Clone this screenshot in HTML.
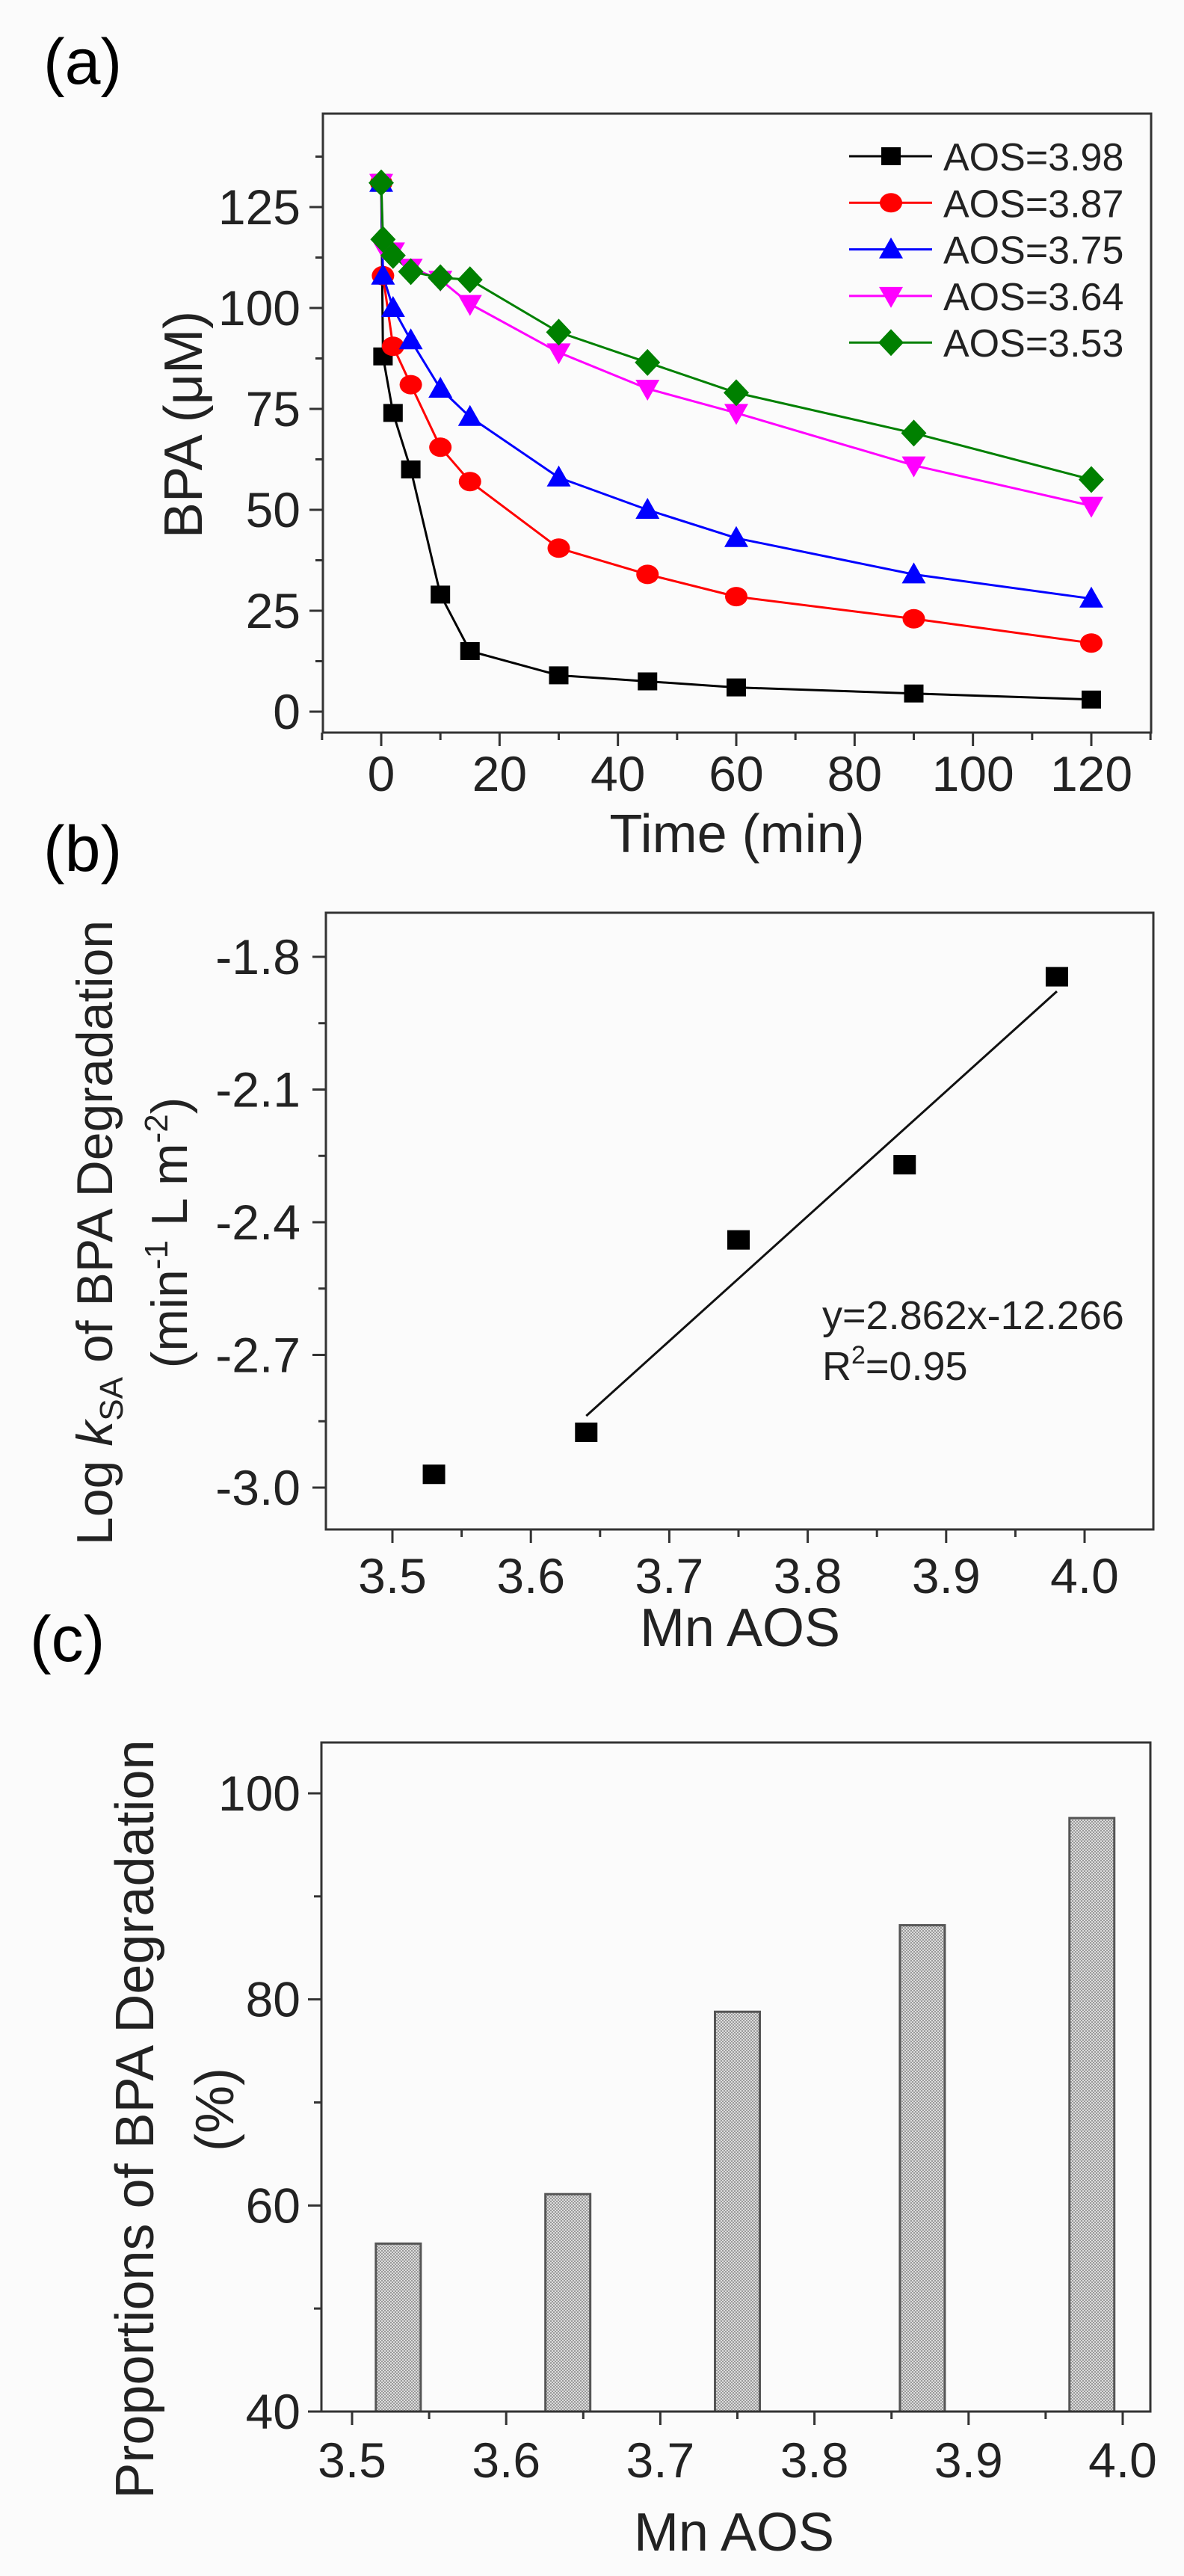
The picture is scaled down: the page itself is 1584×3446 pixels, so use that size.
<!DOCTYPE html>
<html><head><meta charset="utf-8"><style>
html,body{margin:0;padding:0;background:#fbfbfb;}
svg{display:block;font-family:"Liberation Sans",Arial,sans-serif;}
</style></head><body>
<svg id="fig" width="1584" height="3446" viewBox="0 0 1584 3446" xmlns="http://www.w3.org/2000/svg">
<defs>
<pattern id="hatch" width="4" height="4" patternUnits="userSpaceOnUse">
<rect width="4" height="4" fill="#dcdcdc"/><rect width="2" height="2" fill="#9a9a9a"/><rect x="2" y="2" width="2" height="2" fill="#9a9a9a"/>
</pattern>
</defs>
<rect width="1584" height="3446" fill="#fbfbfb"/>
<text x="58" y="112" font-size="86">(a)</text>
<text x="58" y="1165" font-size="86">(b)</text>
<text x="40" y="2222" font-size="86">(c)</text>
<g id="pa"></g>
<g id="pb"></g>
<g id="pc"></g>
</svg>
<script>
// ---- Panel (a) data ----
const timesA = [0, 0.3, 2, 5, 10, 15, 30, 45, 60, 90, 120];
const aos398 = [131, 88, 74, 60, 29, 15, 9, 7.5, 6, 4.5, 3];
const aos387 = [131, 108, 90.5, 81, 65.5, 57, 40.5, 34, 28.5, 23, 17];
const aos375 = [131, 108, 100, 92, 80, 73, 58, 50, 43, 34, 28];
const aos364 = [131, 115, 114, 110, 107, 101, 89, 80, 74, 61, 51];
const aos353 = [131, 117, 113, 109, 107.5, 107, 94, 86.5, 79, 69, 57.5];
const seriesNamesA = ["AOS=3.98", "AOS=3.87", "AOS=3.75", "AOS=3.64", "AOS=3.53"];
const xTicksA = [0, 20, 40, 60, 80, 100, 120];
const yTicksA = [0, 25, 50, 75, 100, 125];
// ---- Panel (b) data ----
const aosB = [3.53, 3.64, 3.75, 3.87, 3.98];
const logK = [-2.97, -2.875, -2.44, -2.27, -1.845];
const fitX = [3.64, 3.98];
const fitY = [-2.838, -1.878];
const xTicksB = [3.5, 3.6, 3.7, 3.8, 3.9, 4.0];
const yTicksB = [-1.8, -2.1, -2.4, -2.7, -3.0];
// ---- Panel (c) data ----
const aosC = [3.53, 3.64, 3.75, 3.87, 3.98];
const propC = [56.3, 61.1, 78.8, 87.2, 97.6];
const xTicksC = [3.5, 3.6, 3.7, 3.8, 3.9, 4.0];
const yTicksC = [40, 60, 80, 100];

const NS = "http://www.w3.org/2000/svg";
function mk(parent, tag, attrs) {
  const e = document.createElementNS(NS, tag);
  for (const k in attrs) e.setAttribute(k, attrs[k]);
  parent.appendChild(e);
  return e;
}
function lin(d0, d1, r0, r1) { return v => r0 + (v - d0) * (r1 - r0) / (d1 - d0); }

// ================= Panel A =================
(function () {
  const g = document.getElementById('pa');
  const L = 432, R = 1540, T = 152, B = 980;
  const X = lin(0, 120, 510, 1460), Y = lin(0, 125, 952, 277);
  let el = mk(g, 'rect', { x: L, y: T, width: R - L, height: B - T, fill: 'none', stroke: '#333', 'stroke-width': 3 });
  
  
  for (let v = -10; v <= 130; v += 10) {
    const major = v % 20 === 0;
    el = mk(g, 'line', { x1: X(v), x2: X(v), y1: B, y2: B + (major ? 18 : 10), stroke: '#333', 'stroke-width': 3 });
    
    
  }
  xTicksA.forEach(v => {
    el = mk(g, 'text', { x: X(v), y: 1058, 'font-size': 66, 'text-anchor': 'middle', fill: '#222' });
    el.textContent = v;
    
    
  });
  for (let v = 0; v <= 137.5; v += 12.5) {
    const major = v % 25 === 0;
    el = mk(g, 'line', { x1: L, x2: L - (major ? 18 : 10), y1: Y(v), y2: Y(v), stroke: '#333', 'stroke-width': 3 });
    
    
  }
  yTicksA.forEach(v => {
    el = mk(g, 'text', { x: 402, y: Y(v) + 23, 'font-size': 66, 'text-anchor': 'end', fill: '#222' });
    el.textContent = v;
    
    
  });
  el = mk(g, 'text', { x: 986, y: 1140, 'font-size': 72, 'text-anchor': 'middle', fill: '#222' });
  el.textContent = 'Time (min)';
  
  
  el = mk(g, 'text', { x: 0, y: 0, 'font-size': 72, 'text-anchor': 'middle', fill: '#222', transform: 'translate(270,568) rotate(-90)' });
  el.textContent = 'BPA (\u03BCM)';
  
  

  const all = [aos398, aos387, aos375, aos364, aos353];
  const colors = ['#000', '#ff0000', '#0000ff', '#ff00ff', '#008000'];
  const shapes = ['square', 'circle', 'tri', 'tridown', 'diamond'];
  function marker(cx, cy, shape, color, name) {
    let m;
    if (shape === 'square') m = mk(g, 'rect', { x: cx - 13, y: cy - 12, width: 26, height: 24, fill: color });
    else if (shape === 'circle') m = mk(g, 'ellipse', { cx: cx, cy: cy, rx: 15, ry: 13, fill: color });
    else if (shape === 'tri') m = mk(g, 'polygon', { points: `${cx},${cy - 16} ${cx + 16},${cy + 12} ${cx - 16},${cy + 12}`, fill: color });
    else if (shape === 'tridown') m = mk(g, 'polygon', { points: `${cx},${cy + 16} ${cx + 16},${cy - 12} ${cx - 16},${cy - 12}`, fill: color });
    else m = mk(g, 'polygon', { points: `${cx},${cy - 18} ${cx + 17},${cy} ${cx},${cy + 18} ${cx - 17},${cy}`, fill: color });
    
    
  }
  all.forEach((s, i) => {
    const pts = s.map((v, j) => X(timesA[j]) + ',' + Y(v)).join(' ');
    el = mk(g, 'polyline', { points: pts, fill: 'none', stroke: colors[i], 'stroke-width': 3 });
    
    
  });
  all.forEach((s, i) => {
    s.forEach((v, j) => marker(X(timesA[j]), Y(v), shapes[i], colors[i], 'data-point'));
  });
  seriesNamesA.forEach((n, i) => {
    const y = 209 + i * 62.3;
    el = mk(g, 'line', { x1: 1136, x2: 1247, y1: y, y2: y, stroke: colors[i], 'stroke-width': 3 });
    
    
    marker(1192, y, shapes[i], colors[i], 'legend-marker');
    el = mk(g, 'text', { x: 1262, y: y + 19, 'font-size': 52, fill: '#222' });
    el.textContent = n;
    
    
  });
})();

// ================= Panel B =================
(function () {
  const g = document.getElementById('pb');
  const L = 436, R = 1543, T = 1221, B = 2046;
  const X = lin(3.5, 4.0, 525, 1451), Y = lin(-1.8, -3.0, 1280, 1990);
  let el = mk(g, 'rect', { x: L, y: T, width: R - L, height: B - T, fill: 'none', stroke: '#333', 'stroke-width': 3 });
  
  
  for (let k = 1; k <= 11; k++) {
    const v = 3.45 + k * 0.05;
    const major = k % 2 === 1;
    el = mk(g, 'line', { x1: X(v), x2: X(v), y1: B, y2: B + (major ? 18 : 10), stroke: '#333', 'stroke-width': 3 });
    
    
  }
  xTicksB.forEach(v => {
    el = mk(g, 'text', { x: X(v), y: 2131, 'font-size': 66, 'text-anchor': 'middle', fill: '#222' });
    el.textContent = v.toFixed(1);
    
    
  });
  for (let k = 0; k <= 8; k++) {
    const v = -1.8 - k * 0.15;
    const major = k % 2 === 0;
    el = mk(g, 'line', { x1: L, x2: L - (major ? 18 : 10), y1: Y(v), y2: Y(v), stroke: '#333', 'stroke-width': 3 });
    
    
  }
  yTicksB.forEach(v => {
    el = mk(g, 'text', { x: 402, y: Y(v) + 23, 'font-size': 66, 'text-anchor': 'end', fill: '#222' });
    el.textContent = v.toFixed(1);
    
    
  });
  el = mk(g, 'text', { x: 990, y: 2202, 'font-size': 72, 'text-anchor': 'middle', fill: '#222' });
  el.textContent = 'Mn AOS';
  
  
  el = mk(g, 'text', { x: 0, y: 0, 'font-size': 68, 'text-anchor': 'middle', fill: '#222', transform: 'translate(150,1649) rotate(-90)' });
  el.innerHTML = 'Log <tspan font-style="italic">k</tspan><tspan font-size="44" dy="14">SA</tspan><tspan dy="-14"> of BPA Degradation</tspan>';
  
  
  el = mk(g, 'text', { x: 0, y: 0, 'font-size': 68, 'text-anchor': 'middle', fill: '#222', transform: 'translate(250,1649) rotate(-90)' });
  el.innerHTML = '(min<tspan font-size="44" dy="-26">-1</tspan><tspan dy="26"> L m</tspan><tspan font-size="44" dy="-26">-2</tspan><tspan dy="26">)</tspan>';
  
  
  el = mk(g, 'line', { x1: X(fitX[0]), y1: Y(fitY[0]), x2: X(fitX[1]), y2: Y(fitY[1]), stroke: '#111', 'stroke-width': 3 });
  
  
  aosB.forEach((a, i) => {
    el = mk(g, 'rect', { x: X(a) - 15, y: Y(logK[i]) - 13, width: 30, height: 26, fill: '#000' });
    
    
  });
  el = mk(g, 'text', { x: 1100, y: 1778, 'font-size': 54, fill: '#222' });
  el.textContent = 'y=2.862x-12.266';
  
  
  el = mk(g, 'text', { x: 1100, y: 1846, 'font-size': 54, fill: '#222' });
  el.innerHTML = 'R<tspan font-size="34" dy="-22">2</tspan><tspan dy="22">=0.95</tspan>';
  
  
})();

// ================= Panel C =================
(function () {
  const g = document.getElementById('pc');
  const L = 430, R = 1539, T = 2331, B = 3226;
  const X = lin(3.5, 4.0, 471, 1502), Y = lin(40, 100, 3226, 2399);
  aosC.forEach((a, i) => {
    const y = Y(propC[i]);
    const el = mk(g, 'rect', { x: X(a) - 30, y: y, width: 60, height: B - y, fill: 'url(#hatch)', stroke: '#555', 'stroke-width': 3 });
    
    
  });
  let el = mk(g, 'rect', { x: L, y: T, width: R - L, height: B - T, fill: 'none', stroke: '#333', 'stroke-width': 3 });
  
  
  for (let k = 0; k <= 10; k++) {
    const v = 3.5 + k * 0.05;
    const major = k % 2 === 0;
    el = mk(g, 'line', { x1: X(v), x2: X(v), y1: B, y2: B + (major ? 18 : 10), stroke: '#333', 'stroke-width': 3 });
    
    
  }
  xTicksC.forEach(v => {
    el = mk(g, 'text', { x: X(v), y: 3314, 'font-size': 66, 'text-anchor': 'middle', fill: '#222' });
    el.textContent = v.toFixed(1);
    
    
  });
  for (let v = 40; v <= 100; v += 10) {
    const major = v % 20 === 0;
    el = mk(g, 'line', { x1: L, x2: L - (major ? 18 : 10), y1: Y(v), y2: Y(v), stroke: '#333', 'stroke-width': 3 });
    
    
  }
  yTicksC.forEach(v => {
    el = mk(g, 'text', { x: 402, y: Y(v) + 23, 'font-size': 66, 'text-anchor': 'end', fill: '#222' });
    el.textContent = v;
    
    
  });
  el = mk(g, 'text', { x: 982, y: 3412, 'font-size': 72, 'text-anchor': 'middle', fill: '#222' });
  el.textContent = 'Mn AOS';
  
  
  el = mk(g, 'text', { x: 0, y: 0, 'font-size': 72, 'text-anchor': 'middle', fill: '#222', transform: 'translate(205,2835) rotate(-90)' });
  el.textContent = 'Proportions of BPA Degradation';
  
  
  el = mk(g, 'text', { x: 0, y: 0, 'font-size': 72, 'text-anchor': 'middle', fill: '#222', transform: 'translate(312,2822) rotate(-90)' });
  el.textContent = '(%)';
  
  
})();
</script>
</body></html>
